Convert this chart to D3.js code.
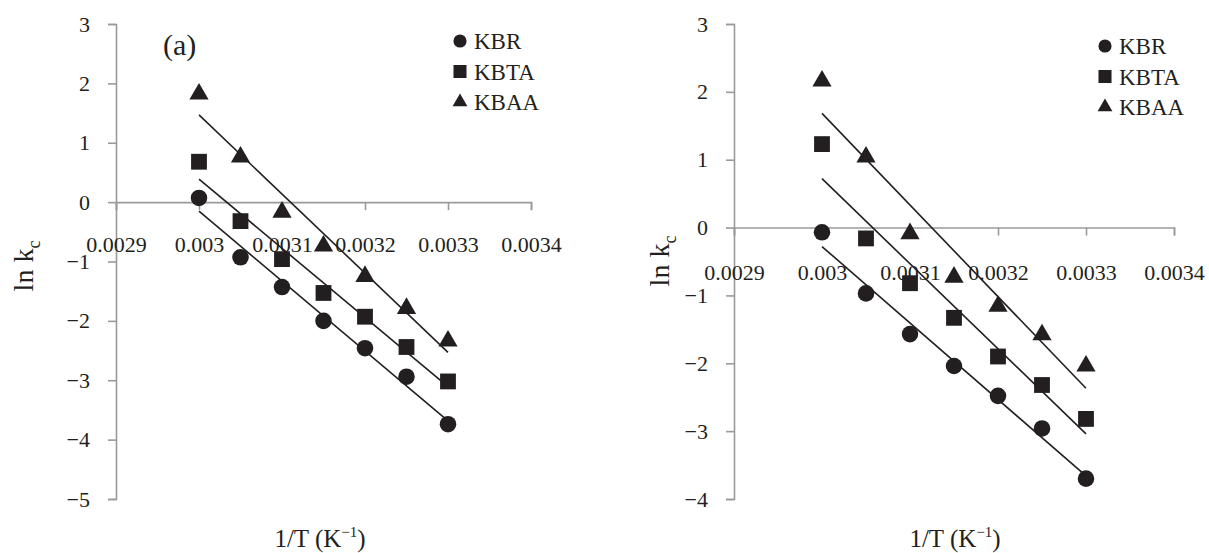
<!DOCTYPE html>
<html>
<head>
<meta charset="utf-8">
<script src="https://cdn.jsdelivr.net/npm/d3@7"></script>
<style>
  body { margin: 0; background: #fff; }
</style>
</head>
<body>
<svg id="canvas" width="1209" height="553"></svg>
<script>
// shared x values (1/T)
let invT = [0.003, 0.00305, 0.0031, 0.00315, 0.0032, 0.00325, 0.0033];
let xTicks = [0.0029, 0.003, 0.0031, 0.0032, 0.0033, 0.0034];
let xTickLabels = ["0.0029", "0.003", "0.0031", "0.0032", "0.0033", "0.0034"];
let seriesNames = ["KBR", "KBTA", "KBAA"];

// panel (a)
let leftKBR = [0.07, -0.93, -1.43, -2.0, -2.46, -2.94, -3.74];
let leftKBTA = [0.68, -0.32, -0.96, -1.53, -1.93, -2.44, -3.02];
let leftKBAA = [1.82, 0.76, -0.17, -0.74, -1.25, -1.79, -2.34];
let leftYTicks = [3, 2, 1, 0, -1, -2, -3, -4, -5];

// second panel
let rightKBR = [-0.07, -0.97, -1.57, -2.04, -2.48, -2.96, -3.7];
let rightKBTA = [1.23, -0.16, -0.82, -1.33, -1.9, -2.32, -2.82];
let rightKBAA = [2.16, 1.04, -0.09, -0.73, -1.16, -1.58, -2.04];
let rightYTicks = [3, 2, 1, 0, -1, -2, -3, -4];

let canvas = d3.select("#canvas");
let ink = "#231f20";
let serif = "Liberation Serif";
let symbols = [d3.symbolCircle, d3.symbolSquare, d3.symbolTriangle];
let markerSizes = [215, 250, 160];
let legendSizes = [135, 170, 95];

// least squares fit, used for the trend lines
let fit = (xs, ys) => {
  let mx = d3.mean(xs);
  let my = d3.mean(ys);
  let num = d3.sum(xs, (x, i) => (x - mx) * (ys[i] - my));
  let den = d3.sum(xs, (x) => (x - mx) * (x - mx));
  let slope = num / den;
  return (x) => my + slope * (x - mx);
};

let drawPanel = (p) => {
  let g = canvas.append("g").attr("font-family", serif);
  let xScale = d3.scaleLinear().domain([0.0029, 0.0034]).range([p.left, p.right]);
  let yScale = d3.scaleLinear().domain(p.yDomain).range([p.bottom, p.top]);

  // y axis
  let yAxis = g.append("g")
    .attr("transform", "translate(" + p.left + ",0)")
    .call(d3.axisLeft(yScale).tickValues(p.yTicks).tickSize(8).tickPadding(18).tickFormat(d3.format("d")));
  // x axis at y = 0
  let xAxis = g.append("g")
    .attr("transform", "translate(0," + yScale(0) + ")")
    .call(d3.axisBottom(xScale).tickValues(xTicks).tickSize(8)
      .tickFormat((d, i) => xTickLabels[i]));
  [yAxis, xAxis].forEach((ax) => {
    ax.attr("font-family", serif).attr("font-size", 22);
    ax.select(".domain").attr("stroke", "#9a9a9a").attr("stroke-width", 1.6);
    ax.selectAll(".tick line").attr("stroke", "#9a9a9a").attr("stroke-width", 1.6);
    ax.selectAll("text").attr("fill", ink).attr("font-family", serif).attr("font-size", 22);
  });
  xAxis.selectAll("text").attr("y", 0).attr("dy", 0)
    .attr("transform", "translate(0," + p.xLabelOffset + ")");

  let series = [p.kbr, p.kbta, p.kbaa];

  // trend lines
  series.forEach((ys) => {
    let f = fit(invT, ys);
    let x0 = invT[0];
    let x1 = invT[invT.length - 1];
    g.append("line")
      .attr("x1", xScale(x0)).attr("y1", yScale(f(x0)))
      .attr("x2", xScale(x1)).attr("y2", yScale(f(x1)))
      .attr("stroke", ink)
      .attr("stroke-width", 1.6);
  });

  // markers
  series.forEach((ys, s) => {
    g.selectAll(".m" + s)
      .data(ys)
      .enter()
      .append("path")
      .attr("d", d3.symbol().type(symbols[s]).size(markerSizes[s]))
      .attr("transform", (d, i) => "translate(" + xScale(invT[i]) + "," + yScale(d) + ")")
      .attr("fill", ink);
  });

  // legend
  seriesNames.forEach((name, s) => {
    let ly = p.legendY + s * 30.5;
    g.append("path")
      .attr("d", d3.symbol().type(symbols[s]).size(legendSizes[s]))
      .attr("transform", "translate(" + p.legendX + "," + ly + ")")
      .attr("fill", ink);
    g.append("text")
      .attr("x", p.legendX + 14)
      .attr("y", ly + 8)
      .attr("fill", ink)
      .attr("font-family", serif)
      .attr("font-size", 23)
      .text(name);
  });

  // axis titles
  let yt = g.append("text")
    .attr("transform", "translate(" + p.yTitleX + "," + p.yTitleY + ") rotate(-90)")
    .attr("text-anchor", "middle")
    .attr("fill", ink)
    .attr("font-family", serif)
    .attr("font-size", 28);
  yt.append("tspan").text("ln k");
  yt.append("tspan").attr("dy", 7).attr("font-size", 18).text("c");

  let xt = g.append("text")
    .attr("x", p.xTitleX)
    .attr("y", 547)
    .attr("text-anchor", "middle")
    .attr("fill", ink)
    .attr("font-family", serif)
    .attr("font-size", 25);
  xt.append("tspan").text("1/T (K");
  xt.append("tspan").attr("dy", -10).attr("font-size", 15).text("\u2212" + "1");
  xt.append("tspan").attr("dy", 10).text(")");

  if (p.tag) {
    g.append("text")
      .attr("x", 163).attr("y", 55)
      .attr("fill", ink)
      .attr("font-family", serif)
      .attr("font-size", 30)
      .text(p.tag);
  }
};

drawPanel({
  left: 116, right: 531, top: 24, bottom: 499,
  yDomain: [-5, 3], yTicks: leftYTicks,
  kbr: leftKBR, kbta: leftKBTA, kbaa: leftKBAA,
  xLabelOffset: 50, legendX: 460, legendY: 41,
  yTitleX: 33, yTitleY: 266, xTitleX: 320, tag: "(a)"
});

drawPanel({
  left: 734, right: 1174, top: 24, bottom: 499,
  yDomain: [-4, 3], yTicks: rightYTicks,
  kbr: rightKBR, kbta: rightKBTA, kbaa: rightKBAA,
  xLabelOffset: 52, legendX: 1105, legendY: 46,
  yTitleX: 669, yTitleY: 261, xTitleX: 955, tag: null
});
</script>
</body>
</html>
